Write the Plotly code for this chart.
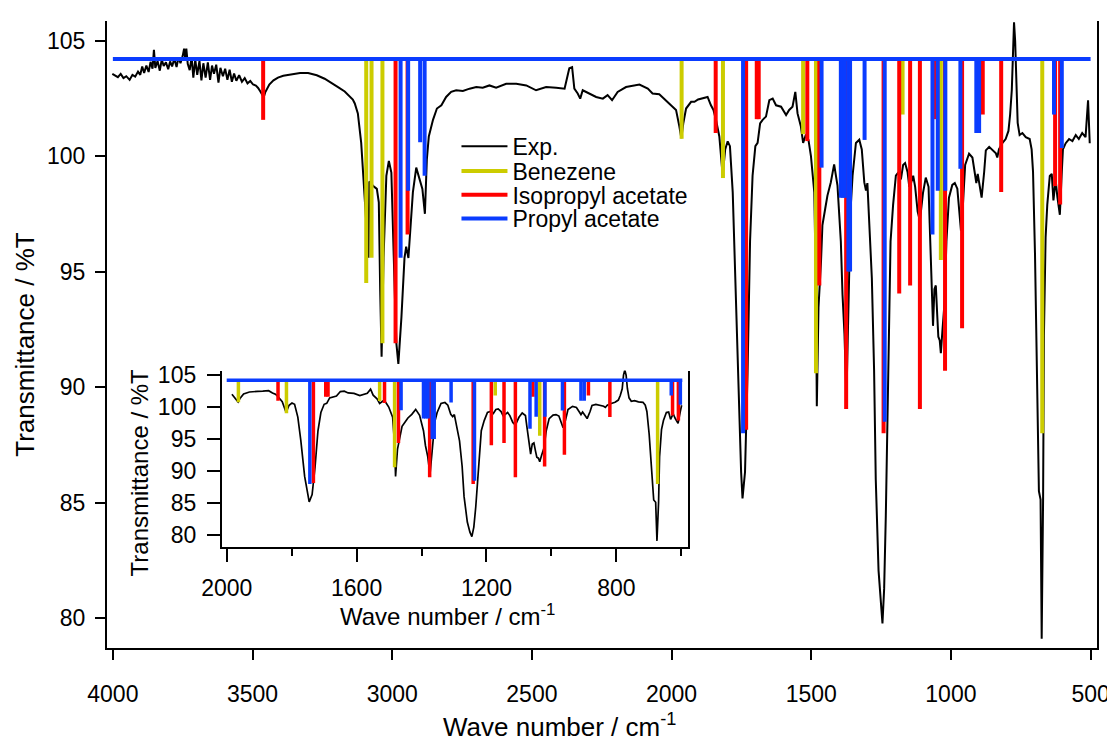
import plotly.graph_objects as go

# ---------------- data ----------------
exp_wn = [4002, 3992, 3982, 3972, 3962, 3952, 3940, 3930, 3920, 3910, 3902, 3895, 3888, 3880, 3872, 3865, 3858, 3853, 3848, 3840,
          3832, 3825, 3818, 3810, 3802, 3795, 3788, 3780, 3772, 3765, 3758, 3750, 3745, 3741, 3737, 3732, 3725, 3718, 3712, 3705,
          3698, 3690, 3683, 3676, 3668, 3660, 3652, 3645, 3638, 3630, 3622, 3615, 3606, 3598, 3590, 3582, 3574, 3566, 3558, 3548,
          3538, 3528, 3518, 3508, 3498, 3488, 3480, 3472, 3465, 3460, 3455, 3448, 3440, 3425, 3409, 3390, 3361, 3330, 3301, 3270,
          3242, 3220, 3194, 3170, 3150, 3141, 3134, 3123, 3111, 3099, 3090, 3085, 3082, 3069, 3055, 3048, 3043, 3038, 3031, 3021,
          3012, 3003, 2991, 2985, 2978, 2967, 2956, 2950, 2942, 2935, 2926, 2914, 2902, 2892, 2883, 2876, 2869, 2854, 2840, 2824,
          2807, 2789, 2771, 2747, 2723, 2699, 2676, 2652, 2628, 2592, 2556, 2520, 2485, 2449, 2413, 2383, 2370, 2366, 2356, 2350,
          2348, 2336, 2327, 2318, 2294, 2270, 2246, 2229, 2213, 2193, 2163, 2115, 2085, 2068, 2044, 2020, 2002, 1984, 1972, 1965,
          1958, 1948, 1930, 1918, 1905, 1889, 1871, 1859, 1850, 1841, 1829, 1817, 1808, 1799, 1791, 1781, 1772, 1760, 1751, 1746,
          1737, 1728, 1719, 1710, 1700, 1692, 1683, 1674, 1662, 1650, 1638, 1626, 1608, 1590, 1579, 1567, 1557, 1549, 1537, 1529,
          1519, 1510, 1501, 1489, 1483, 1480, 1474, 1465, 1460, 1450, 1442, 1430, 1418, 1406, 1394, 1388, 1381, 1374, 1365, 1359,
          1352, 1340, 1328, 1319, 1310, 1304, 1299, 1293, 1283, 1275, 1269, 1259, 1251, 1245, 1239, 1233, 1224, 1216, 1207, 1197,
          1188, 1179, 1171, 1164, 1155, 1149, 1143, 1135, 1128, 1119, 1111, 1100, 1090, 1080, 1076, 1068, 1064, 1059, 1054, 1049,
          1045, 1040, 1036, 1030, 1023, 1016, 1007, 995, 986, 977, 971, 964, 957, 949, 935, 923, 913, 909, 904, 897,
          890, 881, 875, 863, 852, 839, 834, 828, 816, 804, 794, 788, 782, 778, 774, 770, 766, 761, 754, 744,
          732, 718, 711, 706, 699, 691, 685, 679, 675, 670, 667, 661, 655, 646, 639, 633, 628, 625, 619, 610,
          603, 599, 589, 577, 565, 553, 542, 530, 518, 509, 503]
exp_t = [103.56, 103.48, 103.42, 103.56, 103.38, 103.46, 103.30, 103.52, 103.44, 103.66, 103.52, 103.88, 103.60, 103.92, 103.64, 104.08, 103.78, 104.60, 103.82, 104.12,
         103.70, 104.18, 103.90, 104.06, 103.76, 104.10, 103.88, 104.22, 103.86, 104.28, 104.02, 104.34, 104.65, 104.22, 104.65, 104.00, 103.72, 104.28, 103.40, 104.18,
         103.52, 104.12, 103.28, 104.02, 103.40, 104.06, 103.30, 103.92, 103.56, 103.96, 103.18, 103.82, 103.46, 103.78, 103.30, 103.74, 103.22, 103.58, 103.26, 103.50,
         103.22, 103.38, 103.15, 103.25, 103.10, 103.05, 102.95, 102.80, 102.65, 102.55, 102.75, 102.95, 103.10, 103.28, 103.40, 103.48, 103.55, 103.60, 103.60, 103.50,
         103.35, 103.20, 102.99, 102.80, 102.58, 102.45, 102.28, 101.85, 100.57, 98.43, 96.80, 95.60, 98.90, 98.72, 98.58, 98.00, 94.16, 91.31, 95.60, 99.15,
         99.79, 99.29, 94.16, 91.88, 91.00, 93.02, 95.59, 96.08, 95.59, 97.00, 98.43, 99.50, 99.00, 98.58, 97.50, 99.86, 100.85, 101.57, 102.06, 102.20,
         102.56, 102.78, 102.85, 102.82, 102.92, 102.99, 102.96, 103.06, 102.96, 103.13, 103.13, 103.06, 102.85, 102.99, 102.96, 102.92, 103.60, 103.80, 103.85, 103.20,
         102.92, 102.71, 102.49, 102.85, 102.71, 102.56, 102.49, 102.64, 102.42, 102.78, 102.99, 103.10, 102.92, 102.71, 102.68, 102.42, 102.20, 102.00, 101.28, 100.78,
         101.42, 102.06, 102.35, 102.35, 102.45, 102.49, 102.56, 102.20, 102.00, 101.57, 100.85, 99.15, 100.29, 100.64, 100.43, 98.43, 94.87, 89.17, 86.32, 85.18,
         86.32, 90.60, 96.30, 99.15, 100.43, 100.57, 101.42, 101.57, 101.71, 102.42, 102.49, 102.20, 102.14, 101.78, 102.00, 102.14, 102.78, 101.85, 101.28, 100.57,
         100.93, 100.71, 100.00, 98.43, 94.16, 89.17, 93.45, 95.44, 97.00, 97.72, 98.29, 98.86, 99.64, 98.72, 96.30, 94.00, 92.30, 89.50, 94.00, 97.72,
         99.15, 100.57, 100.71, 100.29, 98.86, 98.51, 98.83, 97.09, 94.71, 90.76, 86.01, 82.05, 80.47, 79.76, 81.26, 84.43, 90.76, 96.30, 97.88, 99.15,
         99.30, 98.99, 99.62, 99.70, 99.30, 98.67, 98.83, 99.15, 98.67, 97.60, 97.20, 98.40, 99.07, 98.67, 97.09, 94.56, 92.65, 94.24, 94.40, 93.13,
         92.18, 92.02, 91.47, 92.50, 93.61, 96.30, 98.20, 98.75, 98.83, 98.59, 97.88, 96.77, 97.88, 99.62, 100.10, 99.94, 99.15, 98.83, 99.23, 98.67,
         98.20, 99.30, 100.25, 100.40, 100.29, 100.12, 99.94, 100.29, 100.56, 100.74, 101.09, 101.80, 102.86, 104.99, 105.79, 104.99, 102.86, 101.44, 100.91, 101.00,
         100.82, 100.74, 100.29, 99.32, 95.77, 90.45, 85.49, 85.13, 79.10, 85.13, 92.22, 96.48, 97.90, 99.14, 99.23, 98.08, 98.79, 98.96, 98.25, 97.46,
         99.32, 100.29, 100.56, 100.74, 100.65, 100.91, 100.74, 101.00, 100.82, 102.42, 100.56]

benzene_wn = [3093, 3074, 3035, 1964, 1816, 1529, 1483, 1173, 1036, 673]
benzene_t = [94.5, 95.6, 91.9, 100.75, 99.05, 100.95, 90.6, 101.8, 95.5, 88.0]

ipa_wn = [3462, 2988, 2945, 1842, 1733, 1695, 1688, 1514, 1471, 1375, 1241, 1185, 1146, 1111, 1057, 1021, 960, 886, 820, 627, 609]
ipa_t = [101.57, 91.9, 96.6, 101.0, 88.15, 101.6, 101.6, 100.65, 94.4, 89.05, 88.0, 94.05, 94.4, 89.05, 101.6, 90.7, 92.55, 101.8, 98.45, 98.7, 97.9]

pa_wn = [2970, 2943, 2900, 2884, 1744, 1463, 1394, 1387, 1380, 1367, 1361, 1309, 1237, 1066, 1047, 1020, 966, 909, 899, 631, 603]
pa_t = [95.6, 98.5, 100.6, 99.15, 88.0, 99.5, 98.2, 98.2, 98.2, 95.0, 95.0, 100.7, 88.5, 96.6, 98.5, 98.5, 99.45, 101.0, 101.0, 101.8, 100.35]

baseline_t = 104.2
main_span = [4000, 500]
inset_span = [2000, 597]

main_xticks = [4000, 3500, 3000, 2500, 2000, 1500, 1000, 500]
yticks = [80, 85, 90, 95, 100, 105]

C_EXP = "black"
C_BZ = "#CCCC00"
C_IPA = "#FF0000"
C_PA = "#0A3CFF"
FONT = "Arial"
TICK_SIZE = 23
MAIN_TITLE_SIZE = 26
INSET_TITLE_SIZE = 24
LEGEND_SIZE = 23


def sticks(wn, t, lo, hi):
    xs, ys = [], []
    for w, v in zip(wn, t):
        if lo <= w <= hi:
            xs += [w, w, None]
            ys += [baseline_t, v, None]
    return xs, ys


def clip(wn, t, lo, hi):
    pts = [(w, v) for w, v in zip(wn, t) if lo <= w <= hi]
    return [p[0] for p in pts], [p[1] for p in pts]


fig = go.Figure()

# ---- main plot ----
fig.add_trace(go.Scatter(x=exp_wn, y=exp_t, mode="lines", name="Exp.", legend="legend",
                         line=dict(color=C_EXP, width=2), xaxis="x", yaxis="y"))
for nm, wn, t, col, lg in [("Benezene", benzene_wn, benzene_t, C_BZ, "legend2"),
                           ("Isopropyl acetate", ipa_wn, ipa_t, C_IPA, "legend3"),
                           ("Propyl acetate", pa_wn, pa_t, C_PA, "legend4")]:
    xs, ys = sticks(wn, t, main_span[1], main_span[0])
    fig.add_trace(go.Scatter(x=xs, y=ys, mode="lines", name=nm, legend=lg, connectgaps=False,
                             line=dict(color=col, width=4), xaxis="x", yaxis="y"))
fig.add_trace(go.Scatter(x=main_span, y=[baseline_t, baseline_t], mode="lines", showlegend=False,
                         line=dict(color=C_PA, width=4), xaxis="x", yaxis="y"))

# ---- inset ----
ix, iy = clip(exp_wn, exp_t, inset_span[1], inset_span[0])
fig.add_trace(go.Scatter(x=ix, y=iy, mode="lines", showlegend=False,
                         line=dict(color=C_EXP, width=1.7), xaxis="x2", yaxis="y2"))
for wn, t, col in [(benzene_wn, benzene_t, C_BZ), (ipa_wn, ipa_t, C_IPA), (pa_wn, pa_t, C_PA)]:
    xs, ys = sticks(wn, t, inset_span[1], inset_span[0])
    fig.add_trace(go.Scatter(x=xs, y=ys, mode="lines", showlegend=False, connectgaps=False,
                             line=dict(color=col, width=3.5), xaxis="x2", yaxis="y2"))
fig.add_trace(go.Scatter(x=inset_span, y=[baseline_t, baseline_t], mode="lines", showlegend=False,
                         line=dict(color=C_PA, width=3.5), xaxis="x2", yaxis="y2"))

axis_common = dict(showgrid=False, zeroline=False, showline=True, linecolor="black", linewidth=2,
                   ticks="outside", tickcolor="black", tickwidth=2,
                   tickfont=dict(family=FONT, size=TICK_SIZE, color="black"))


def legend_at(yp):
    return dict(x=0.353, y=yp, xanchor="left", yanchor="middle", bgcolor="rgba(0,0,0,0)",
                font=dict(family=FONT, size=LEGEND_SIZE, color="black"), itemwidth=46,
                borderwidth=0, tracegroupgap=0)


def title(text, x, y, size, angle=0):
    return dict(text=text, x=x, y=y, xref="paper", yref="paper", xanchor="center", yanchor="middle",
                textangle=angle, showarrow=False, font=dict(family=FONT, size=size, color="black"))


# page body has an 8px margin: figure is 8px smaller and margins shifted so plot area lands at
# x 107..1098, y 13..648 in the window
fig.update_layout(
    width=1107, height=738,
    margin=dict(l=99, r=17, t=5, b=98),
    plot_bgcolor="white", paper_bgcolor="white",
    showlegend=True,
    legend=legend_at(0.800),
    legend2=legend_at(0.7606),
    legend3=legend_at(0.7228),
    legend4=legend_at(0.685),
    xaxis=dict(domain=[0, 1], range=[4021, 477], tickvals=main_xticks, ticklen=10, ticklabelstandoff=14,
               anchor="y", **axis_common),
    yaxis=dict(domain=[0, 1], range=[78.7, 105.85], tickvals=yticks, ticklen=10, ticklabelstandoff=5,
               mirror=True, anchor="x", **axis_common),
    xaxis2=dict(domain=[0.116, 0.587], range=[2015, 579], tickmode="linear", tick0=0, dtick=400, ticklen=13,
                ticklabelstandoff=6,
                minor=dict(dtick=200, tick0=0, ticklen=7, ticks="outside", tickwidth=2, tickcolor="black"),
                anchor="y2", **axis_common),
    yaxis2=dict(domain=[0.1606, 0.4425], range=[78.1, 105.7], tickvals=yticks, ticklen=13, ticklabelstandoff=6,
                mirror=True, anchor="x2", **axis_common),
    annotations=[
        title("Transmittance / %T", -0.083, 0.485, MAIN_TITLE_SIZE, -90),
        title("Wave number / cm<sup>-1</sup>", 0.457, -0.1235, MAIN_TITLE_SIZE),
        title("Transmittance / %T", 0.0323, 0.280, INSET_TITLE_SIZE, -90),
        title("Wave number / cm<sup>-1</sup>", 0.344, 0.053, INSET_TITLE_SIZE),
    ],
)

fig.write_html("out.html")
